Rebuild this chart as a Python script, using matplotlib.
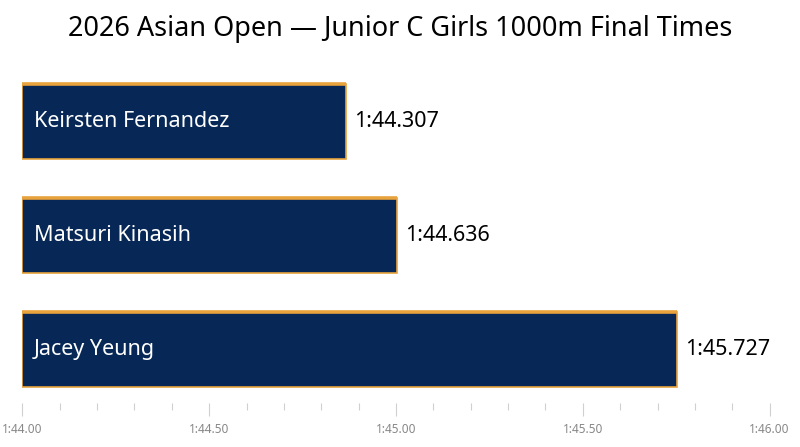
import matplotlib.pyplot as plt
from matplotlib.ticker import FuncFormatter, MultipleLocator

# skaters and what the bars show (seconds); the labels carry the official time
skaters = ['Keirsten Fernandez', 'Matsuri Kinasih', 'Jacey Yeung']
bar_seconds = [104.867, 105.003, 105.753]
time_labels = ['1:44.307', '1:44.636', '1:45.727']

x_start = 104.0
x_end = 106.0
navy = '#072856'
gold = '#E8A33C'

plt.rcParams['font.family'] = ['Noto Sans', 'DejaVu Sans']

fig = plt.figure(figsize=(8, 4.47), dpi=100)
ax = fig.add_axes([0.028, 0.098, 0.934, 0.75])

ypos = list(range(len(skaters)))
h = 0.66
widths = [v - x_start for v in bar_seconds]
ax.barh(ypos, widths, left=x_start, height=h, color=navy,
        edgecolor=gold, linewidth=1.2)
# thicker gold strip along the top of each bar
for y, v in zip(ypos, bar_seconds):
    ax.plot([x_start, v], [y - h / 2, y - h / 2], color=gold, lw=2.6,
            solid_capstyle='butt')

for y, v, name, lab in zip(ypos, bar_seconds, skaters, time_labels):
    ax.text(x_start + 0.03, y, name, color='white', fontsize=15.5,
            va='center', ha='left')
    ax.text(v + 0.02, y, lab, color='black', fontsize=15.5,
            va='center', ha='left')

ax.set_xlim(x_start, x_end)
ax.set_ylim(len(skaters) - 1 + 0.469, -0.469)
ax.set_yticks([])

def fmt(x, pos):
    m = int(x // 60)
    s = x - m * 60
    return f'{m}:{s:05.2f}'

ax.xaxis.set_major_locator(MultipleLocator(0.5))
ax.xaxis.set_minor_locator(MultipleLocator(0.1))
ax.xaxis.set_major_formatter(FuncFormatter(fmt))
ax.tick_params(axis='x', which='major', length=9, width=0.8, color='#d0d0d0',
               labelsize=8.5, labelcolor='#888888', pad=5)
ax.tick_params(axis='x', which='minor', length=5, width=0.8, color='#d0d0d0')
for s in ax.spines.values():
    s.set_visible(False)

fig.suptitle('2026 Asian Open — Junior C Girls 1000m Final Times',
             fontsize=19.5, y=0.967)

fig.savefig('out.png', dpi=100)
